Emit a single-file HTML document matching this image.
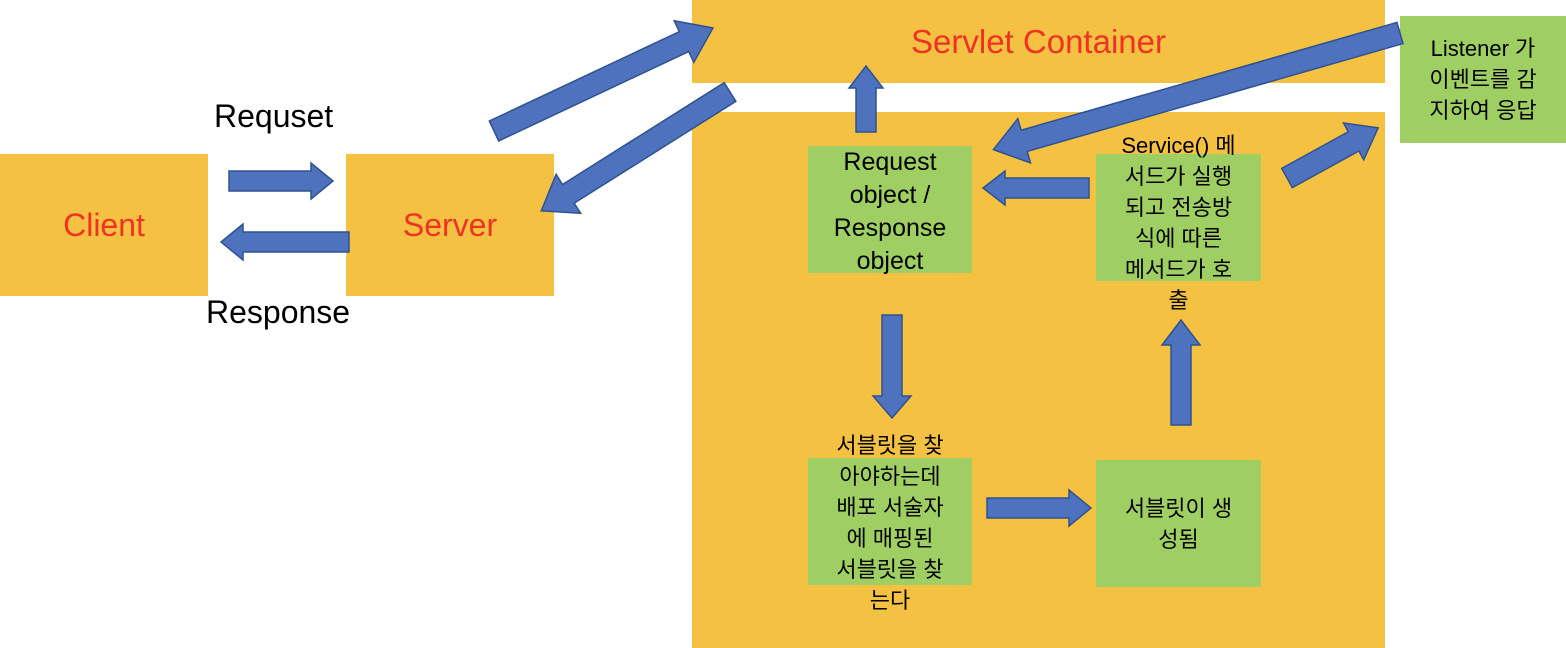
<!DOCTYPE html>
<html><head><meta charset="utf-8"><style>
body{margin:0;width:1566px;height:648px;background:#fff;position:relative;overflow:hidden;font-family:"Liberation Sans","Noto Sans CJK KR",sans-serif}
.b{position:absolute;display:flex;align-items:center;justify-content:center;text-align:center}
.o{background:#f4c142}.g{background:#9fcf62}
.r{color:#ee3324;font-size:32px}
.t{position:absolute;font-size:32px;color:#000}
.k{font-size:22px;line-height:31px;color:#000}
svg{position:absolute;left:0;top:0}
</style></head><body>
<div class="b o r" style="left:0;top:154px;width:208px;height:142px">Client</div>
<div class="b o r" style="left:346px;top:154px;width:208px;height:142px">Server</div>
<div class="b o r" style="left:692px;top:0;width:693px;height:83px;padding-bottom:0;font-size:33px">Servlet Container</div>
<div class="b o" style="left:692px;top:112px;width:693px;height:536px"></div>
<div class="t" style="left:214px;top:98px">Requset</div>
<div class="t" style="left:206px;top:294px">Response</div>
<div class="b g k" style="left:1400px;top:16px;width:166px;height:127px">Listener 가<br>이벤트를 감<br>지하여 응답</div>
<div class="b g" style="left:808px;top:146px;width:164px;height:127px;font-size:25px;line-height:33px;align-items:flex-start">Request<br>object /<br>Response<br>object</div>
<div class="b g k" style="left:1096px;top:154px;width:165px;height:127px;align-items:flex-start;margin-top:-24px;background:none"></div>
<div class="b g" style="left:1096px;top:154px;width:165px;height:127px"></div>
<div class="b k" style="left:1096px;top:130px;width:165px;height:200px;align-items:flex-start">Service() 메<br>서드가 실행<br>되고 전송방<br>식에 따른<br>메서드가 호<br>출</div>
<div class="b g" style="left:808px;top:458px;width:164px;height:127px"></div>
<div class="b k" style="left:808px;top:430px;width:164px;height:190px;align-items:flex-start">서블릿을 찾<br>아야하는데<br>배포 서술자<br>에 매핑된<br>서블릿을 찾<br>는다</div>
<div class="b g k" style="left:1096px;top:460px;width:165px;height:127px">서블릿이 생<br>성됨</div>
<svg width="1566" height="648">
<defs>
</defs>
<g fill="#4e72bd" stroke="#2f528f" stroke-width="1.5">
<!-- 1 -->
<g transform="translate(229,181)"><polygon points="0,-10 82,-10 82,-18 104,0 82,18 82,10 0,10"/></g>
<g transform="translate(349,242) rotate(180)"><polygon points="0,-10 106,-10 106,-18 128,0 106,18 106,10 0,10"/></g>
<g transform="translate(494,131) rotate(-25.2)"><polygon points="0,-11 210,-11 210,-23 242,0 210,23 210,11 0,11"/></g>
<g transform="translate(730,92) rotate(147.8)"><polygon points="0,-11 191,-11 191,-23 223,0 191,23 191,11 0,11"/></g>
<g transform="translate(1400,33) rotate(164)"><polygon points="0,-11 391,-11 391,-23 423,0 391,23 391,11 0,11"/></g>
<g transform="translate(1287,178) rotate(-28.8)"><polygon points="0,-11 76,-11 76,-21 104,0 76,21 76,11 0,11"/></g>
<g transform="translate(866,132) rotate(-90)"><polygon points="0,-10 44,-10 44,-17 66,0 44,17 44,10 0,10"/></g>
<g transform="translate(1089,188) rotate(180)"><polygon points="0,-10 84,-10 84,-17 106,0 84,17 84,10 0,10"/></g>
<g transform="translate(892,315) rotate(90)"><polygon points="0,-10 81,-10 81,-19 103,0 81,19 81,10 0,10"/></g>
<g transform="translate(987,508)"><polygon points="0,-10 82,-10 82,-18 104,0 82,18 82,10 0,10"/></g>
<g transform="translate(1181,425) rotate(-90)"><polygon points="0,-10 80,-10 80,-19 105,0 80,19 80,10 0,10"/></g>
</g>
</svg>
</body></html>
